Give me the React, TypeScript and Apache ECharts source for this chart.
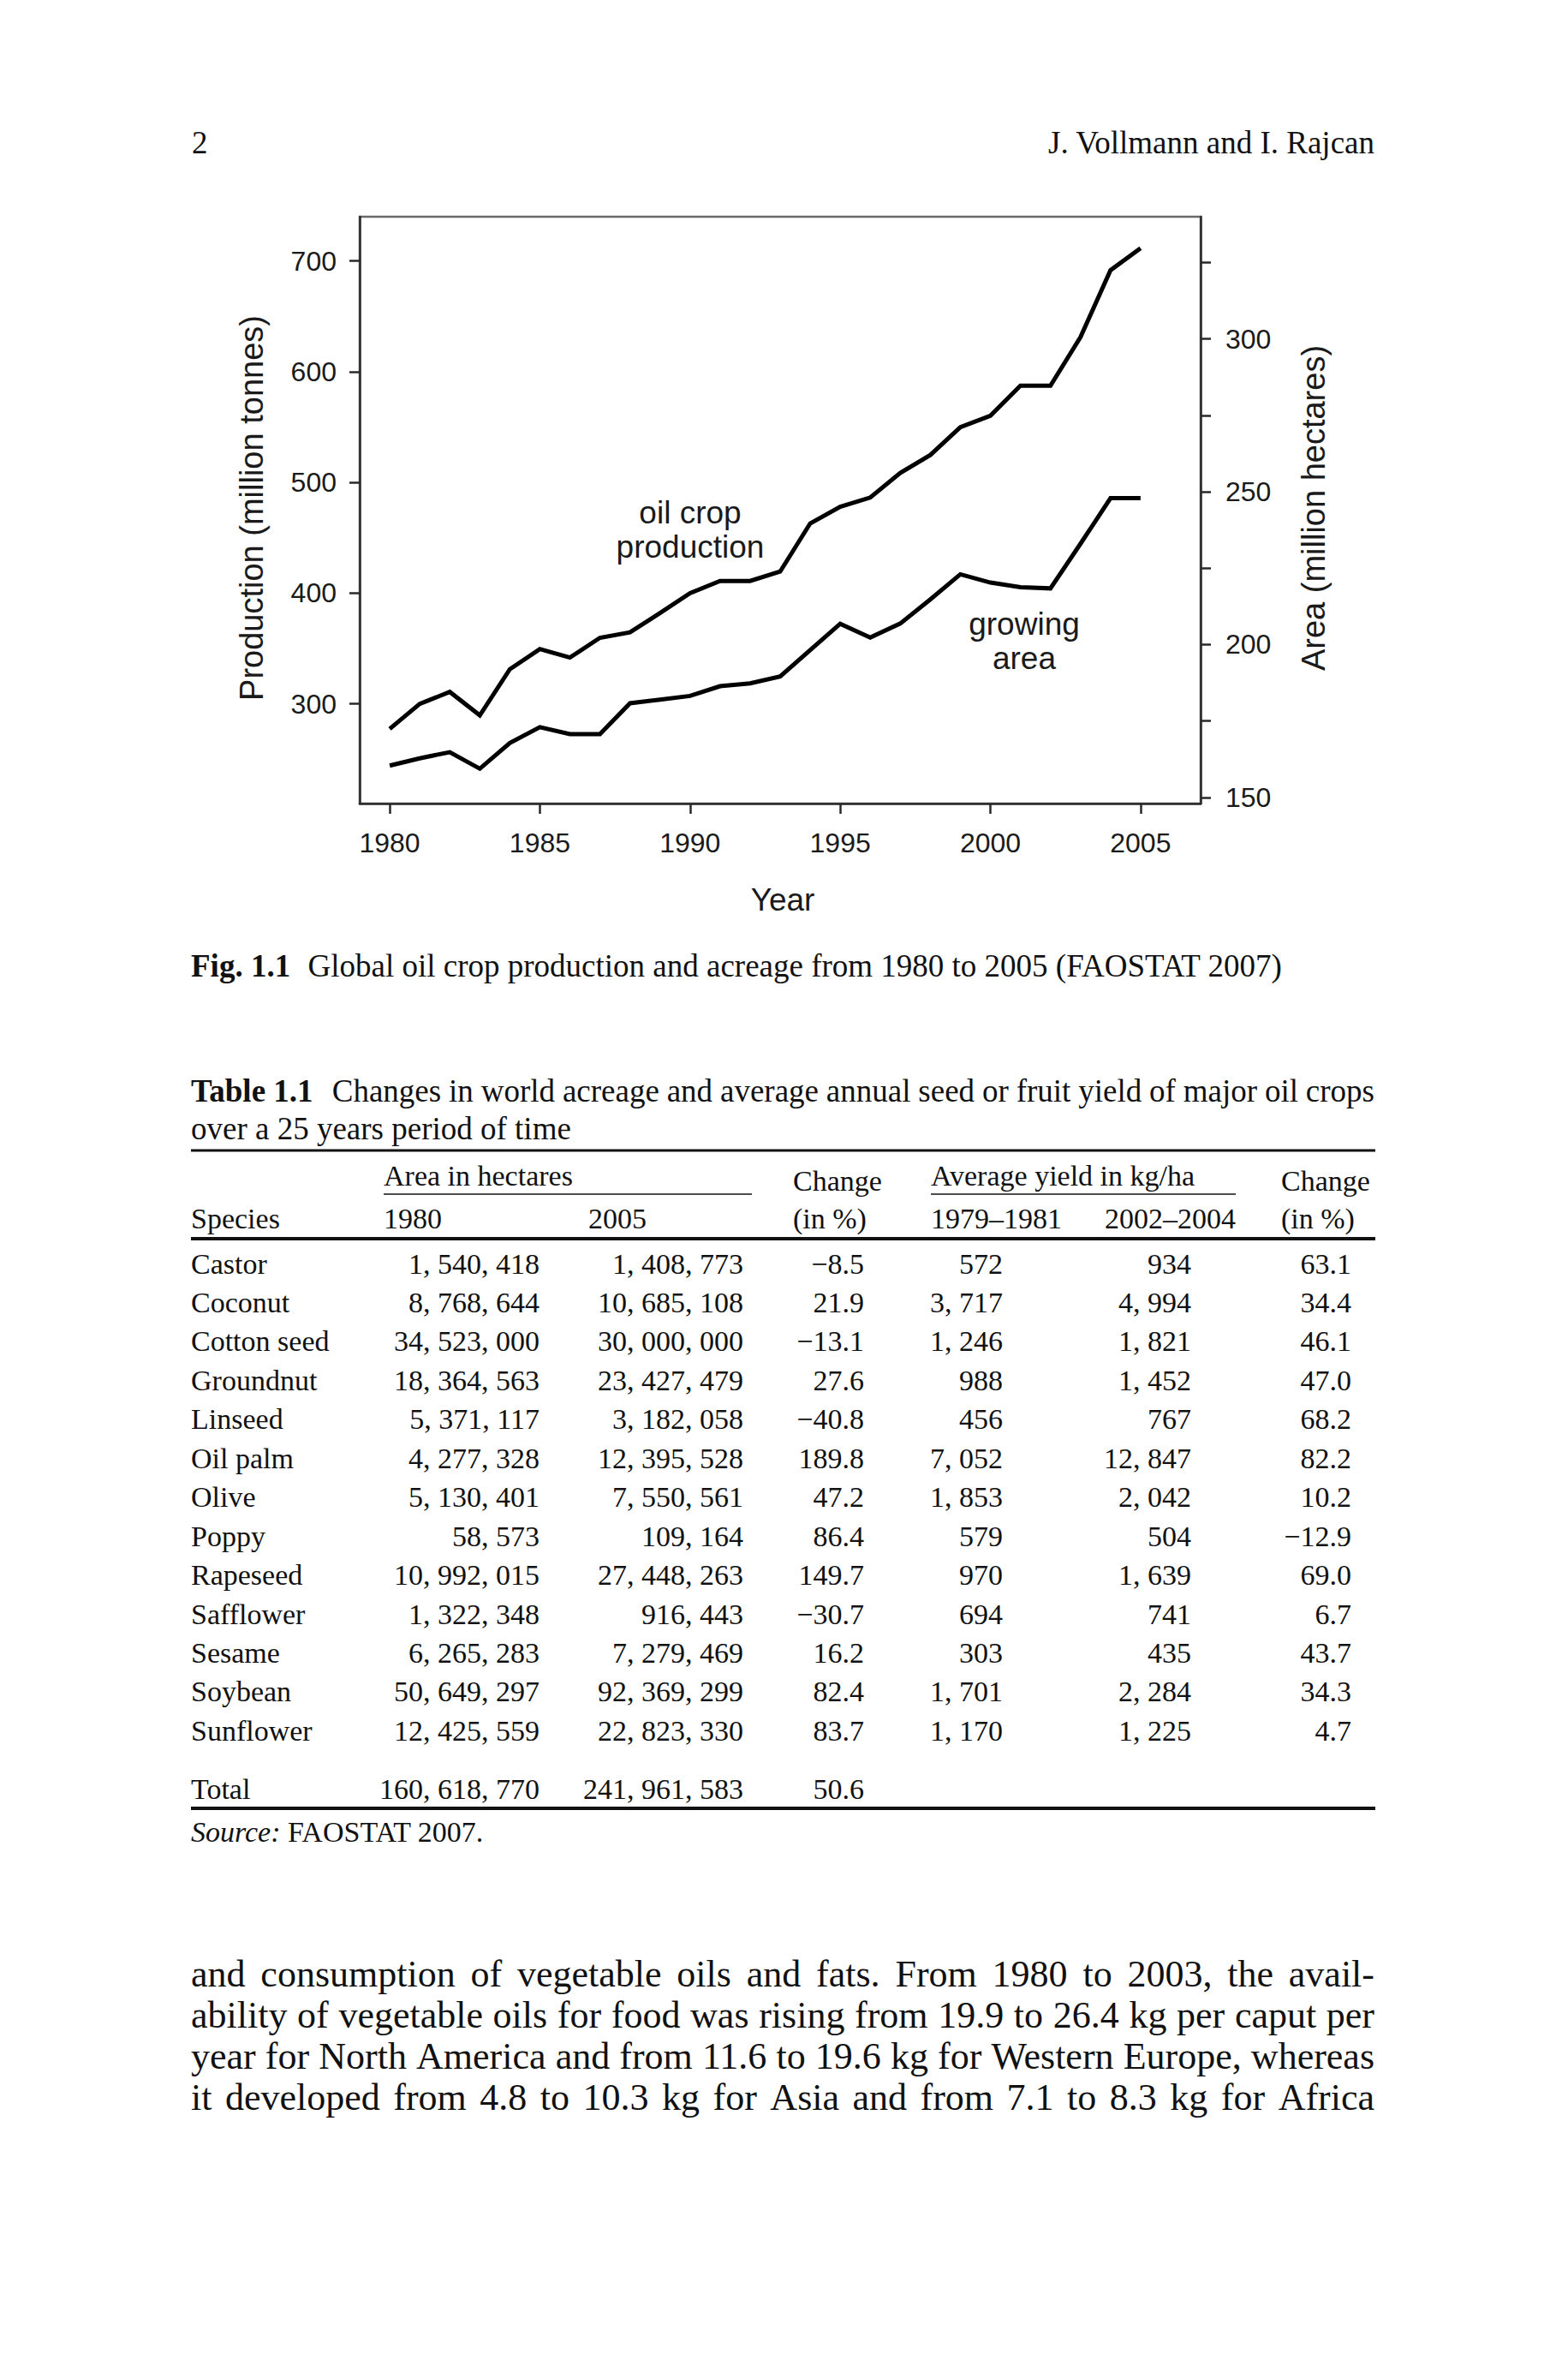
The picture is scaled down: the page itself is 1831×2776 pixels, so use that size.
import React, { useEffect, useRef } from "react";
import * as echarts from "echarts";

// ---------- chart data ----------
const years = [1980, 1981, 1982, 1983, 1984, 1985, 1986, 1987, 1988, 1989, 1990, 1991, 1992, 1993, 1994, 1995, 1996, 1997, 1998, 1999, 2000, 2001, 2002, 2003, 2004, 2005];
const production = [277.4, 300, 310.8, 289.7, 331.3, 349.5, 341.8, 359.7, 364.6, 382, 400, 411, 411, 419.5, 463, 478, 486.4, 508.6, 524.8, 549.9, 560.3, 587.4, 587.4, 631.2, 691.7, 711.5];
const growingArea = [160.4, 162.8, 164.8, 159.4, 167.8, 173, 170.7, 170.7, 180.8, 182, 183.2, 186.4, 187.3, 189.6, 198.2, 206.8, 202.3, 206.9, 214.8, 223, 220.3, 218.8, 218.4, 233, 247.9, 247.9];
const xTicks = [1980, 1985, 1990, 1995, 2000, 2005];
const leftTicks = [300, 400, 500, 600, 700];
const rightTicks = [150, 175, 200, 225, 250, 275, 300, 325];
const rightLabels = [150, 200, 250, 300];

// ---------- table data ----------
const species = ["Castor", "Coconut", "Cotton seed", "Groundnut", "Linseed", "Oil palm", "Olive", "Poppy", "Rapeseed", "Safflower", "Sesame", "Soybean", "Sunflower"];
const area1980 = ["1, 540, 418", "8, 768, 644", "34, 523, 000", "18, 364, 563", "5, 371, 117", "4, 277, 328", "5, 130, 401", "58, 573", "10, 992, 015", "1, 322, 348", "6, 265, 283", "50, 649, 297", "12, 425, 559"];
const area2005 = ["1, 408, 773", "10, 685, 108", "30, 000, 000", "23, 427, 479", "3, 182, 058", "12, 395, 528", "7, 550, 561", "109, 164", "27, 448, 263", "916, 443", "7, 279, 469", "92, 369, 299", "22, 823, 330"];
const areaChange = ["\u22128.5", "21.9", "\u221213.1", "27.6", "\u221240.8", "189.8", "47.2", "86.4", "149.7", "\u221230.7", "16.2", "82.4", "83.7"];
const yield7981 = ["572", "3, 717", "1, 246", "988", "456", "7, 052", "1, 853", "579", "970", "694", "303", "1, 701", "1, 170"];
const yield0204 = ["934", "4, 994", "1, 821", "1, 452", "767", "12, 847", "2, 042", "504", "1, 639", "741", "435", "2, 284", "1, 225"];
const yieldChange = ["63.1", "34.4", "46.1", "47.0", "68.2", "82.2", "10.2", "\u221212.9", "69.0", "6.7", "43.7", "34.3", "4.7"];
const totalRow = ["Total", "160, 618, 770", "241, 961, 583", "50.6"];

// ---------- page texts ----------
const pageNumber = "2";
const runningHead = "J. Vollmann and I. Rajcan";
const figLabel = "Fig. 1.1";
const figCaption = "Global oil crop production and acreage from 1980 to 2005 (FAOSTAT 2007)";
const tableLabel = "Table 1.1";
const tableCaption1 = "Changes in world acreage and average annual seed or fruit yield of major oil crops";
const tableCaption2 = "over a 25 years period of time";
const bodyLines = [
  "and consumption of vegetable oils and fats. From 1980 to 2003, the avail-",
  "ability of vegetable oils for food was rising from 19.9 to 26.4 kg per caput per",
  "year for North America and from 11.6 to 19.6 kg for Western Europe, whereas",
  "it developed from 4.8 to 10.3 kg for Asia and from 7.1 to 8.3 kg for Africa",
];

const SERIF = '"Liberation Serif", "Times New Roman", serif';
const SANS = '"Liberation Sans", Arial, sans-serif';
const INK = "#111";

let measureCtx: CanvasRenderingContext2D | null = null;
function measure(text: string, size: number, weight = "normal", style = "normal", family = SERIF) {
  if (!measureCtx) measureCtx = document.createElement("canvas").getContext("2d");
  measureCtx!.font = `${style} ${weight} ${size}px ${family}`;
  return measureCtx!.measureText(text).width;
}

function txt(text: string, x: number, y: number, size: number, opts: any = {}) {
  const align = opts.align || "left";
  return {
    type: "text",
    x,
    y,
    rotation: opts.rotation || 0,
    silent: true,
    style: {
      text,
      fontSize: size,
      fontFamily: opts.family || SERIF,
      fontWeight: opts.weight || "normal",
      fontStyle: opts.style || "normal",
      fill: opts.fill || INK,
      align,
      textAlign: align,
      verticalAlign: "middle",
      textVerticalAlign: "middle",
      lineHeight: opts.lineHeight,
    },
  };
}

function rule(x1: number, x2: number, y: number, w: number) {
  return { type: "line", silent: true, shape: { x1, y1: y, x2, y2: y }, style: { stroke: INK, lineWidth: w } };
}

function justify(words: string[], x0: number, x1: number, y: number, size: number, out: any[]) {
  const widths = words.map((w) => measure(w, size));
  const total = widths.reduce((a, b) => a + b, 0);
  const gap = words.length > 1 ? (x1 - x0 - total) / (words.length - 1) : 0;
  let x = x0;
  words.forEach((w, i) => {
    out.push(txt(w, x, y, size));
    x += widths[i] + gap;
  });
}

export default function App() {
  const ref = useRef<HTMLDivElement>(null);

  useEffect(() => {
    if (!ref.current) return;
    const chart = echarts.init(ref.current, undefined, { renderer: "svg" });

    const L = 223;
    const R = 1605;
    const g: any[] = [];

    // running head
    g.push(txt(pageNumber, 224, 166, 37));
    g.push(txt(runningHead, R, 166, 37, { align: "right" }));

    // chart texts
    g.push(txt("Production (million tonnes)", 294, 593, 38, { family: SANS, align: "center", rotation: Math.PI / 2, fill: "#1a1a1a" }));
    g.push(txt("Area (million hectares)", 1534, 593, 38, { family: SANS, align: "center", rotation: Math.PI / 2, fill: "#1a1a1a" }));
    g.push(txt("Year", 914, 1050, 37, { family: SANS, align: "center", fill: "#1a1a1a" }));
    g.push(txt("oil crop\nproduction", 806, 618, 37, { family: SANS, align: "center", lineHeight: 40, fill: "#1a1a1a" }));
    g.push(txt("growing\narea", 1196, 748, 37, { family: SANS, align: "center", lineHeight: 40, fill: "#1a1a1a" }));

    // figure caption
    const capSize = 37;
    g.push(txt(figLabel, L, 1127, capSize, { weight: "bold" }));
    const figW = measure(figLabel, capSize, "bold");
    g.push(txt(figCaption, L + figW + capSize * 0.55, 1127, capSize));

    // table caption
    g.push(txt(tableLabel, L, 1273, capSize, { weight: "bold" }));
    const tabW = measure(tableLabel, capSize, "bold");
    justify(tableCaption1.split(" "), L + tabW + capSize * 0.6, R, 1273, capSize, g);
    g.push(txt(tableCaption2, L, 1317, capSize));

    // table rules
    g.push(rule(L, R + 1, 1343, 3));
    g.push(rule(448, 878, 1394, 1.6));
    g.push(rule(1087, 1443, 1394, 1.6));
    g.push(rule(L, R + 1, 1446, 4));
    g.push(rule(L, R + 1, 2111, 4));

    // table header
    const ts = 34;
    g.push(txt("Area in hectares", 448, 1372, ts));
    g.push(txt("Change", 926, 1378, ts));
    g.push(txt("Average yield in kg/ha", 1087, 1372, ts));
    g.push(txt("Change", 1496, 1378, ts));
    g.push(txt("Species", L, 1422, ts));
    g.push(txt("1980", 448, 1422, ts));
    g.push(txt("2005", 687, 1422, ts));
    g.push(txt("(in %)", 926, 1422, ts));
    g.push(txt("1979\u20131981", 1087, 1422, ts));
    g.push(txt("2002\u20132004", 1290, 1422, ts));
    g.push(txt("(in %)", 1496, 1422, ts));

    // table body
    const rightEdges = [630, 868, 1009, 1171, 1391, 1578];
    const cols = [area1980, area2005, areaChange, yield7981, yield0204, yieldChange];
    species.forEach((s, i) => {
      const y = 1475 + 45.45 * i;
      g.push(txt(s, L, y, ts));
      cols.forEach((c, j) => g.push(txt(c[i], rightEdges[j], y, ts, { align: "right" })));
    });
    g.push(txt(totalRow[0], L, 2088, ts));
    for (let j = 1; j < totalRow.length; j++) g.push(txt(totalRow[j], rightEdges[j - 1], 2088, ts, { align: "right" }));
    g.push(txt("Source:", L, 2138, ts, { style: "italic" }));
    g.push(txt("FAOSTAT 2007.", L + measure("Source:", ts, "normal", "italic") + ts * 0.25, 2138, ts));

    // body text
    const bs = 44;
    bodyLines.forEach((line, i) => justify(line.split(" "), L, R, 2304 + 48.3 * i, bs, g));

    const axisLabelStyle = { fontSize: 32, fontFamily: SANS, color: "#1a1a1a", formatter: (v: number) => String(v) };
    const axisLineStyle = { color: "#2a2a2a", width: 2.5 };

    chart.setOption({
      animation: false,
      backgroundColor: "#fff",
      grid: { left: 420, top: 253, width: 982, height: 685, show: true, borderColor: "#6a6a6a", borderWidth: 2.5, containLabel: false },
      xAxis: {
        type: "value",
        min: 1979,
        max: 2007,
        axisLine: { show: true, onZero: false, lineStyle: axisLineStyle },
        axisTick: { show: true, customValues: xTicks, length: 12, lineStyle: { color: "#2a2a2a", width: 2.5 } },
        axisLabel: { customValues: xTicks, margin: 30, ...axisLabelStyle },
        splitLine: { show: false },
      },
      yAxis: [
        {
          type: "value",
          position: "left",
          min: 210,
          max: 740,
          axisLine: { show: true, lineStyle: axisLineStyle },
          axisTick: { show: true, customValues: leftTicks, length: 12, lineStyle: { color: "#2a2a2a", width: 2.5 } },
          axisLabel: { customValues: leftTicks, margin: 27, ...axisLabelStyle },
          splitLine: { show: false },
        },
        {
          type: "value",
          position: "right",
          min: 148,
          max: 340,
          axisLine: { show: true, lineStyle: axisLineStyle },
          axisTick: { show: true, customValues: rightTicks, length: 12, lineStyle: { color: "#2a2a2a", width: 2.5 } },
          axisLabel: { customValues: rightLabels, margin: 29, ...axisLabelStyle },
          splitLine: { show: false },
        },
      ],
      series: [
        {
          name: "oil crop production",
          type: "line",
          yAxisIndex: 0,
          data: years.map((y, i) => [y, production[i]]),
          symbol: "none",
          lineStyle: { color: "#000", width: 5, join: "miter" },
        },
        {
          name: "growing area",
          type: "line",
          yAxisIndex: 1,
          data: years.map((y, i) => [y, growingArea[i]]),
          symbol: "none",
          lineStyle: { color: "#000", width: 5, join: "miter" },
        },
      ],
      graphic: { elements: g },
    });

    return () => chart.dispose();
  }, []);

  return (
    <div
      ref={ref}
      style={{ position: "absolute", left: 0, top: 0, width: 1831, height: 2776, background: "#fff" }}
    />
  );
}
